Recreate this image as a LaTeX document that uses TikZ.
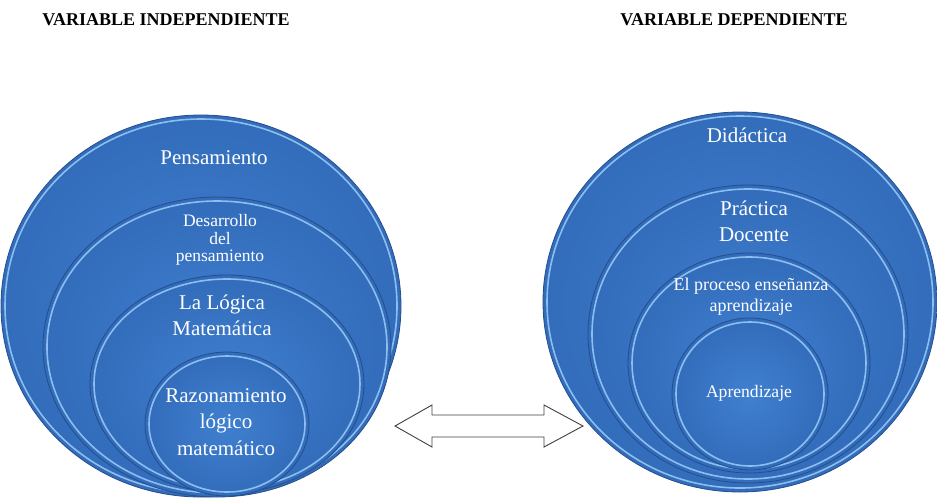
\documentclass[tikz,border=0pt]{standalone}
\usepackage{fontspec}
\setmainfont{Liberation Serif}
\usetikzlibrary{shapes.geometric}
\definecolor{bluemid}{RGB}{64,128,208}
\definecolor{bluedark}{RGB}{50,108,186}
\definecolor{edgedark}{RGB}{38,78,140}
\definecolor{rim}{RGB}{140,190,240}
\tikzset{
  disc/.style={ellipse, inner sep=0pt, outer sep=0pt, inner color=bluemid, outer color=bluedark, draw=edgedark, line width=0.8pt},
  hilite/.style={draw=rim, line width=1.6pt},
  lbl/.style={text=white, align=center, inner sep=0pt},
  ttl/.style={text=black, inner sep=0pt, font=\bfseries\fontsize{18}{20}\selectfont},
  blockarrow/.style={draw=black!75, fill=white, line width=0.9pt, line join=miter}
}
\begin{document}
\begin{tikzpicture}[x=1pt,y=-1pt]
\useasboundingbox (0,0) rectangle (937,501);
% titles
\node[ttl] (t1) at (166,20) {VARIABLE INDEPENDIENTE};
\node[ttl] (t2) at (734,20) {VARIABLE DEPENDIENTE};
% left group
\node[disc, minimum width=400pt, minimum height=382pt] (L1) at (201,306) {};
\draw[hilite] (L1.center) ellipse [x radius=196pt, y radius=187pt];
\node[disc, minimum width=348pt, minimum height=300pt] (L2) at (217,347) {};
\draw[hilite] (L2.center) ellipse [x radius=170pt, y radius=146pt];
\node[disc, minimum width=274pt, minimum height=218pt] (L3) at (227,384) {};
\draw[hilite] (L3.center) ellipse [x radius=133pt, y radius=105pt];
\node[disc, minimum width=164pt, minimum height=144pt] (L4) at (227,424) {};
\draw[hilite] (L4.center) ellipse [x radius=78pt, y radius=68pt];
\node[lbl, font=\fontsize{21}{26}\selectfont] (p1) at (214,158) {Pensamiento};
\node[lbl, font=\fontsize{17.5}{17.5}\selectfont] (p2) at (220,240) {Desarrollo\\del\\pensamiento};
\node[lbl, font=\fontsize{21}{26}\selectfont] (p3) at (222,315) {La Lógica\\Matemática};
\node[lbl, font=\fontsize{21}{26.5}\selectfont] (p4) at (226,422) {Razonamiento\\lógico\\matemático};
% right group
\node[disc, minimum width=394pt, minimum height=380pt] (R1) at (740,302) {};
\draw[hilite] (R1.center) ellipse [x radius=193pt, y radius=186pt];
\node[disc, minimum width=320pt, minimum height=298pt] (R2) at (748,334) {};
\draw[hilite] (R2.center) ellipse [x radius=156pt, y radius=145pt];
\node[disc, minimum width=242pt, minimum height=220pt] (R3) at (749,363) {};
\draw[hilite] (R3.center) ellipse [x radius=117pt, y radius=106pt];
\node[disc, minimum width=156pt, minimum height=152pt] (R4) at (750,394) {};
\draw[hilite] (R4.center) ellipse [x radius=74pt, y radius=72pt];
\node[lbl, font=\fontsize{21}{26}\selectfont] (q1) at (747,135) {Didáctica};
\node[lbl, font=\fontsize{21}{26}\selectfont] (q2) at (754,221) {Práctica\\Docente};
\node[lbl, font=\fontsize{18}{21}\selectfont] (q3) at (751,297) {El proceso enseñanza\\aprendizaje};
\node[lbl, font=\fontsize{17.6}{20}\selectfont] (q4) at (749,393) {Aprendizaje};
% double block arrow
\draw[blockarrow] (395,426) -- (432,405) -- (432,415) -- (544,415) -- (544,405)
  -- (583,426) -- (544,447) -- (544,437) -- (432,437) -- (432,447) -- cycle;
\end{tikzpicture}
\end{document}
